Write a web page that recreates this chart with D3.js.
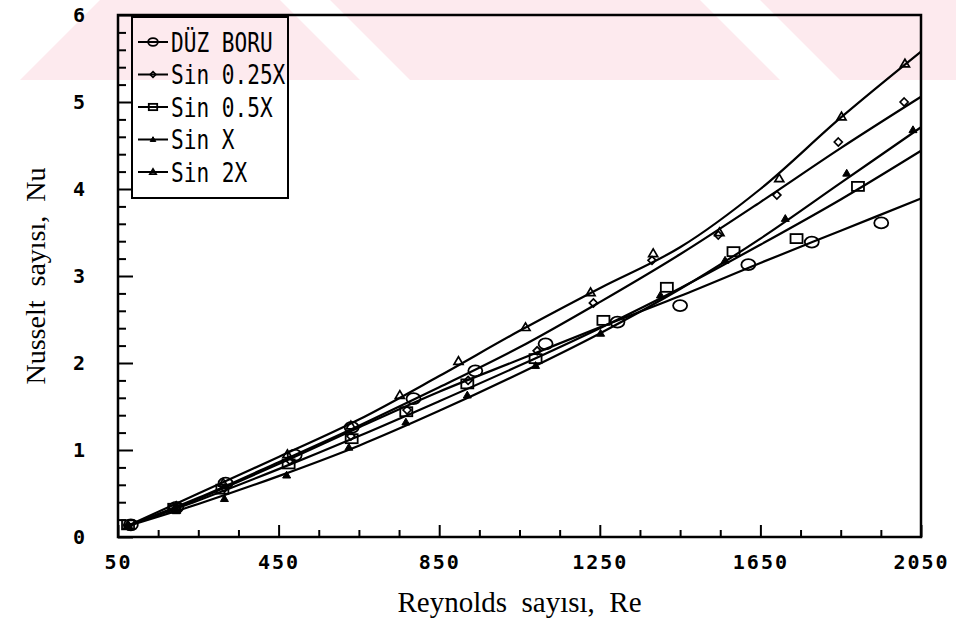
<!DOCTYPE html>
<html>
<head>
<meta charset="utf-8">
<script src="https://cdn.jsdelivr.net/npm/d3@7"></script>
<style>
  body { margin: 0; background: #fff; }
  svg { display: block; }
</style>
</head>
<body>
<div id="chart"></div>
<script>
const width = 956;
const height = 631;

// Axis ticks
const xMajorTicks = [50, 450, 850, 1250, 1650, 2050];
const xMinorTicks = [150, 250, 350, 550, 650, 750, 950, 1050, 1150, 1350, 1450, 1550, 1750, 1850, 1950];
const yMajorTicks = [0, 1, 2, 3, 4, 5, 6];
const yMinorTicks = [0.2, 0.4, 0.6, 0.8, 1.2, 1.4, 1.6, 1.8, 2.2, 2.4, 2.6, 2.8,
                     3.2, 3.4, 3.6, 3.8, 4.2, 4.4, 4.6, 4.8, 5.2, 5.4, 5.6, 5.8];

// Series names (legend order)
const seriesNames = ["DÜZ BORU", "Sin 0.25X", "Sin 0.5X", "Sin X", "Sin 2X"];
const seriesMarkers = ["circle", "diamond", "square", "filledTri", "openTri"];

const duzRe = [82, 195, 318, 490, 632, 786, 940, 1115, 1294, 1450, 1620, 1778, 1951];
const duzNu = [0.14, 0.34, 0.62, 0.94, 1.26, 1.59, 1.91, 2.22, 2.47, 2.66, 3.13, 3.39, 3.61];

const sin025Re = [75, 195, 315, 478, 630, 770, 922, 1094, 1234, 1380, 1545, 1691, 1844, 2008];
const sin025Nu = [0.13, 0.33, 0.56, 0.88, 1.16, 1.46, 1.80, 2.14, 2.69, 3.18, 3.47, 3.93, 4.54, 5.00];

const sin05Re = [75, 190, 310, 475, 632, 768, 920, 1090, 1259, 1417, 1583, 1740, 1893];
const sin05Nu = [0.14, 0.33, 0.55, 0.84, 1.13, 1.44, 1.76, 2.05, 2.49, 2.87, 3.28, 3.43, 4.03];

const sinXRe = [75, 195, 315, 470, 625, 767, 920, 1090, 1252, 1401, 1562, 1712, 1865, 2030];
const sinXNu = [0.13, 0.30, 0.44, 0.71, 1.03, 1.32, 1.63, 1.97, 2.34, 2.78, 3.18, 3.66, 4.18, 4.68];

const sin2XRe = [75, 195, 312, 472, 630, 752, 898, 1065, 1227, 1383, 1548, 1697, 1852, 2010];
const sin2XNu = [0.13, 0.35, 0.62, 0.95, 1.28, 1.63, 2.02, 2.41, 2.81, 3.26, 3.50, 4.12, 4.83, 5.44];

// Fitted curves, read at these Reynolds numbers
const fitRe = [70, 250, 450, 650, 850, 1050, 1250, 1450, 1650, 1850, 2050];
const fitDuz    = [0.12, 0.44, 0.84, 1.26, 1.67, 2.04, 2.41, 2.77, 3.15, 3.52, 3.89];
const fitSin025 = [0.12, 0.45, 0.86, 1.28, 1.72, 2.18, 2.70, 3.25, 3.85, 4.47, 5.06];
const fitSin05  = [0.12, 0.42, 0.78, 1.16, 1.56, 1.97, 2.40, 2.86, 3.36, 3.88, 4.44];
const fitSinX   = [0.12, 0.38, 0.70, 1.05, 1.45, 1.88, 2.34, 2.85, 3.43, 4.07, 4.71];
const fitSin2X  = [0.12, 0.50, 0.92, 1.35, 1.85, 2.37, 2.86, 3.33, 4.00, 4.82, 5.58];

const pointRe = [duzRe, sin025Re, sin05Re, sinXRe, sin2XRe];
const pointNu = [duzNu, sin025Nu, sin05Nu, sinXNu, sin2XNu];
const fitNu = [fitDuz, fitSin025, fitSin05, fitSinX, fitSin2X];

const plot = {left: 118, right: 921, top: 15, bottom: 537};

const x = d3.scaleLinear().domain([50, 2050]).range([plot.left, plot.right]);
const y = d3.scaleLinear().domain([0, 6]).range([plot.bottom, plot.top]);

const svg = d3.select("#chart").append("svg")
    .attr("width", width)
    .attr("height", height);

// faint pink watermark band of the scanned page
const wm = svg.append("g").attr("fill", "#fdeaee");
wm.append("path").attr("d", "M100,0 L956,0 L956,80 L20,80 Z");
const wmGaps = [[280, 330], [700, 760]];
wm.selectAll("path.gap")
    .data(wmGaps)
    .join("path")
    .attr("class", "gap")
    .attr("fill", "#fff")
    .attr("d", d => `M${d[0]},0 L${d[1]},0 L${d[1] + 80},80 L${d[0] + 80},80 Z`);

const monoFont = "'DejaVu Sans Mono', 'Liberation Mono', monospace";

// minor ticks
svg.append("g")
    .attr("transform", `translate(0,${plot.bottom})`)
    .call(d3.axisBottom(x).tickValues(xMinorTicks).tickSize(-7).tickFormat(""))
    .call(g => g.select(".domain").remove());
svg.append("g")
    .attr("transform", `translate(${plot.left},0)`)
    .call(d3.axisLeft(y).tickValues(yMinorTicks).tickSize(-8).tickFormat(""))
    .call(g => g.select(".domain").remove());

// major ticks and labels
svg.append("g")
    .attr("transform", `translate(0,${plot.bottom})`)
    .call(d3.axisBottom(x).tickValues(xMajorTicks).tickSize(-12).tickPadding(18).tickFormat(d3.format("d")))
    .call(g => g.select(".domain").remove());
svg.append("g")
    .attr("transform", `translate(${plot.left},0)`)
    .call(d3.axisLeft(y).tickValues(yMajorTicks).tickSize(-15).tickPadding(31).tickFormat(d3.format("d")))
    .call(g => g.select(".domain").remove());

svg.selectAll(".tick line").attr("stroke", "#000").attr("stroke-width", 2);
svg.selectAll(".tick text")
    .attr("fill", "#000")
    .style("font-family", monoFont)
    .style("font-weight", "bold")
    .style("font-size", "20px")
    .style("letter-spacing", "2px");

// frame
svg.append("rect")
    .attr("x", plot.left)
    .attr("y", plot.top)
    .attr("width", plot.right - plot.left)
    .attr("height", plot.bottom - plot.top)
    .attr("fill", "none")
    .attr("stroke", "#000")
    .attr("stroke-width", 2.5);

// fitted curves
const line = d3.line()
    .x(d => x(d[0]))
    .y(d => y(d[1]))
    .curve(d3.curveCatmullRom.alpha(0.5));

svg.append("g")
    .selectAll("path")
    .data(fitNu)
    .join("path")
    .attr("fill", "none")
    .attr("stroke", "#000")
    .attr("stroke-width", 2.2)
    .attr("d", nu => line(fitRe.map((r, i) => [r, nu[i]])));

/**
 * Draw a marker of the given kind centred at (cx, cy)
 */
function drawMarker(g, kind, cx, cy, s) {
    if (kind === "circle") {
        g.append("ellipse").attr("cx", cx).attr("cy", cy)
            .attr("rx", 7 * s).attr("ry", 5.5 * s)
            .attr("fill", "none").attr("stroke", "#000").attr("stroke-width", 1.8);
    } else if (kind === "square") {
        g.append("rect").attr("x", cx - 6 * s).attr("y", cy - 4.5 * s)
            .attr("width", 12 * s).attr("height", 9 * s)
            .attr("fill", "none").attr("stroke", "#000").attr("stroke-width", 1.8);
    } else if (kind === "diamond") {
        const r = 4 * s;
        g.append("path")
            .attr("d", `M${cx},${cy - r}L${cx + r},${cy}L${cx},${cy + r}L${cx - r},${cy}Z`)
            .attr("fill", "none").attr("stroke", "#000").attr("stroke-width", 1.7);
    } else if (kind === "openTri") {
        const r = 4.5 * s;
        g.append("path")
            .attr("d", `M${cx},${cy - r}L${cx + r},${cy + r * 0.7}L${cx - r},${cy + r * 0.7}Z`)
            .attr("fill", "none").attr("stroke", "#000").attr("stroke-width", 1.7);
    } else if (kind === "filledTri") {
        const r = 4 * s;
        g.append("path")
            .attr("d", `M${cx},${cy - r}L${cx + r},${cy + r * 0.7}L${cx - r},${cy + r * 0.7}Z`)
            .attr("fill", "#000").attr("stroke", "#000").attr("stroke-width", 1);
    }
}

// measured points
const pts = svg.append("g");
pointRe.forEach((res, k) => {
    res.forEach((r, i) => drawMarker(pts, seriesMarkers[k], x(r), y(pointNu[k][i]), 1));
});

// legend
const legend = svg.append("g");
legend.append("rect")
    .attr("x", 132).attr("y", 17)
    .attr("width", 156).attr("height", 181)
    .attr("fill", "none")
    .attr("stroke", "#000")
    .attr("stroke-width", 2);

const legendY = d3.scalePoint().domain(seriesNames).range([42, 172]);
seriesNames.forEach((name, k) => {
    const ly = legendY(name);
    legend.append("line")
        .attr("x1", 138).attr("x2", 168)
        .attr("y1", ly).attr("y2", ly)
        .attr("stroke", "#000").attr("stroke-width", 2);
    drawMarker(legend, seriesMarkers[k], 153, ly, 0.7);
    legend.append("text")
        .attr("x", 171)
        .attr("y", ly + 9.5)
        .attr("textLength", 12.7 * name.length)
        .attr("lengthAdjust", "spacingAndGlyphs")
        .style("font-family", monoFont)
        .style("font-size", "26px")
        .text(name);
});

// axis titles
svg.append("text")
    .attr("x", (plot.left + plot.right) / 2)
    .attr("y", 612)
    .attr("text-anchor", "middle")
    .style("font-family", "'Liberation Serif', 'Times New Roman', serif")
    .style("font-size", "29px")
    .style("white-space", "pre")
    .text("Reynolds  sayısı,  Re");

svg.append("text")
    .attr("transform", `translate(45,${(plot.top + plot.bottom) / 2}) rotate(-90)`)
    .attr("text-anchor", "middle")
    .style("font-family", "'Liberation Serif', 'Times New Roman', serif")
    .style("font-size", "28px")
    .style("white-space", "pre")
    .text("Nusselt  sayısı,  Nu");
</script>
</body>
</html>
